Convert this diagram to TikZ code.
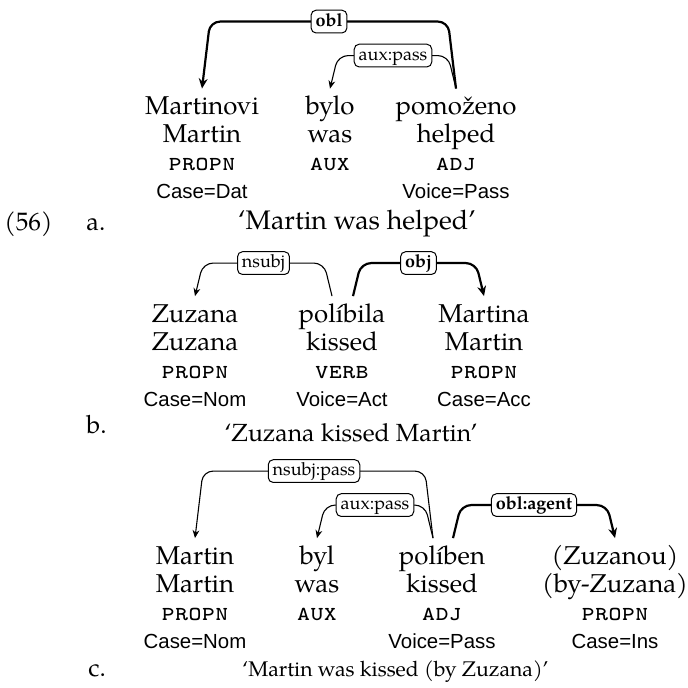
\documentclass[tikz,border=0pt]{standalone}
\usepackage{fontspec}
\setmainfont{TeX Gyre Pagella}
\setsansfont{Liberation Sans}
\usepackage{tikz}
\usetikzlibrary{arrows.meta,calc}

\begin{document}
\begin{tikzpicture}[x=0.5pt,y=0.5pt,>={Stealth[length=4pt,width=3.4pt]}]
    % 节点样式
    \tikzstyle{form}=[anchor=base,inner xsep=0pt,inner ysep=3pt,text height=10pt,text depth=3pt,font=\fontsize{12.9}{15}\selectfont]
    \tikzstyle{gloss}=[anchor=base,inner sep=0pt,font=\fontsize{12.9}{15}\selectfont]
    \tikzstyle{upos}=[anchor=base,inner sep=0pt,font=\fontsize{12.8}{14}\selectfont\ttfamily\scshape]
    \tikzstyle{feat}=[anchor=base,inner sep=0pt,font=\sffamily\fontsize{10.2}{12}\selectfont]
    \tikzstyle{trans}=[anchor=base,inner sep=0pt]
    \tikzstyle{exno}=[anchor=base west,inner sep=0pt,font=\fontsize{12.6}{15}\selectfont]
    % 依存弧样式
    \tikzstyle{dep}=[->,line width=0.55pt,rounded corners=5pt]
    \tikzstyle{heavy}=[line width=1.1pt,-{Stealth[length=5pt,width=4.4pt]}]
    \tikzstyle{lbl}=[draw,fill=white,line width=0.5pt,rounded corners=2.5pt,inner xsep=2.2pt,inner ysep=1.5pt,text height=6.6pt,text depth=1.8pt,font=\fontsize{9}{10}\selectfont]
    \tikzstyle{blbl}=[lbl,font=\fontsize{9}{10}\selectfont\bfseries]

    \useasboundingbox (0,0) rectangle (688,688);

    % 例句 a
    \node[form] (a1) at (202,573) {Martinovi};
    \node[gloss] (a1g) at ([yshift=-14pt]a1.base) {Martin};
    \node[upos] (a1p) at ([yshift=-28pt]a1.base) {propn};
    \node[feat] (a1f) at ([yshift=-42pt]a1.base) {Case=Dat};

    \node[form] (a2) at (330,573) {bylo};
    \node[gloss] (a2g) at ([yshift=-14pt]a2.base) {was};
    \node[upos] (a2p) at ([yshift=-28pt]a2.base) {aux};

    \node[form] (a3) at (456,573) {pomoženo};
    \node[gloss] (a3g) at ([yshift=-14pt]a3.base) {helped};
    \node[upos] (a3p) at ([yshift=-28pt]a3.base) {adj};
    \node[feat] (a3f) at ([yshift=-42pt]a3.base) {Voice=Pass};

    \node[exno] (exnum) at (4,457) {(56)};
    \node[exno] (exa) at (86,457) {a.};
    \node[trans,font=\fontsize{13.4}{16}\selectfont] (atr) at (357,458) {‘Martin was helped’};

    \draw[dep] (a3.north) -- ++(-8,33) -- node[lbl]{aux:pass} ($(a2.north)+(8,33)$) -- (a2.north);
    \draw[dep,heavy] (a3.north) -- ++(-8,67) -- node[blbl]{obl} ($(a1.north)+(8,67)$) -- (a1.north);

    % 例句 b
    \node[form] (b1) at (195,365.5) {Zuzana};
    \node[gloss] (b1g) at ([yshift=-14pt]b1.base) {Zuzana};
    \node[upos] (b1p) at ([yshift=-28pt]b1.base) {propn};
    \node[feat] (b1f) at ([yshift=-42pt]b1.base) {Case=Nom};

    \node[form] (b2) at (342,365.5) {políbila};
    \node[gloss] (b2g) at ([yshift=-14pt]b2.base) {kissed};
    \node[upos] (b2p) at ([yshift=-28pt]b2.base) {verb};
    \node[feat] (b2f) at ([yshift=-42pt]b2.base) {Voice=Act};

    \node[form] (b3) at (484,365.5) {Martina};
    \node[gloss] (b3g) at ([yshift=-14pt]b3.base) {Martin};
    \node[upos] (b3p) at ([yshift=-28pt]b3.base) {propn};
    \node[feat] (b3f) at ([yshift=-42pt]b3.base) {Case=Acc};

    \node[exno] (exb) at (86,254) {b.};
    \node[trans,font=\fontsize{12.4}{15}\selectfont] (btr) at (351,246.5) {‘Zuzana kissed Martin’};

    \draw[dep] ([xshift=-5pt]b2.north) -- ++(-8,33) -- node[lbl]{nsubj} ($(b1.north)+(8,33)$) -- (b1.north);
    \draw[dep,heavy] ([xshift=5.5pt]b2.north) -- ++(8,33) -- node[blbl]{obj} ($(b3.north)+(-8,33)$) -- (b3.north);

    % 例句 c
    \node[form] (c1) at (195,123.5) {Martin};
    \node[gloss] (c1g) at ([yshift=-14pt]c1.base) {Martin};
    \node[upos] (c1p) at ([yshift=-28pt]c1.base) {propn};
    \node[feat] (c1f) at ([yshift=-42pt]c1.base) {Case=Nom};

    \node[form] (c2) at (317,123.5) {byl};
    \node[gloss] (c2g) at ([yshift=-14pt]c2.base) {was};
    \node[upos] (c2p) at ([yshift=-28pt]c2.base) {aux};

    \node[form] (c3) at (442,123.5) {políben};
    \node[gloss] (c3g) at ([yshift=-14pt]c3.base) {kissed};
    \node[upos] (c3p) at ([yshift=-28pt]c3.base) {adj};
    \node[feat] (c3f) at ([yshift=-42pt]c3.base) {Voice=Pass};

    \node[form] (c4) at (615,123.5) {(Zuzanou)};
    \node[gloss] (c4g) at ([yshift=-14pt]c4.base) {(by-Zuzana)};
    \node[upos] (c4p) at ([yshift=-28pt]c4.base) {propn};
    \node[feat] (c4f) at ([yshift=-42pt]c4.base) {Case=Ins};

    \node[exno] (exc) at (88,11) {c.};
    \node[trans,font=\fontsize{10.6}{13}\selectfont] (ctr) at (395.5,11) {‘Martin was kissed (by Zuzana)’};

    \draw[dep] ([xshift=-4.5pt]c3.north) -- ++(-8,33) -- node[lbl]{aux:pass} ($(c2.north)+(8,33)$) -- (c2.north);
    \draw[dep] ([xshift=-4.5pt]c3.north) -- ++(-8,67) -- node[lbl]{nsubj:pass} ($(c1.north)+(8,67)$) -- (c1.north);
    \draw[dep,heavy] ([xshift=5.5pt]c3.north) -- ++(8,33) -- node[blbl]{obl:agent} ($(c4.north)+(-8,33)$) -- (c4.north);
\end{tikzpicture}
\end{document}
